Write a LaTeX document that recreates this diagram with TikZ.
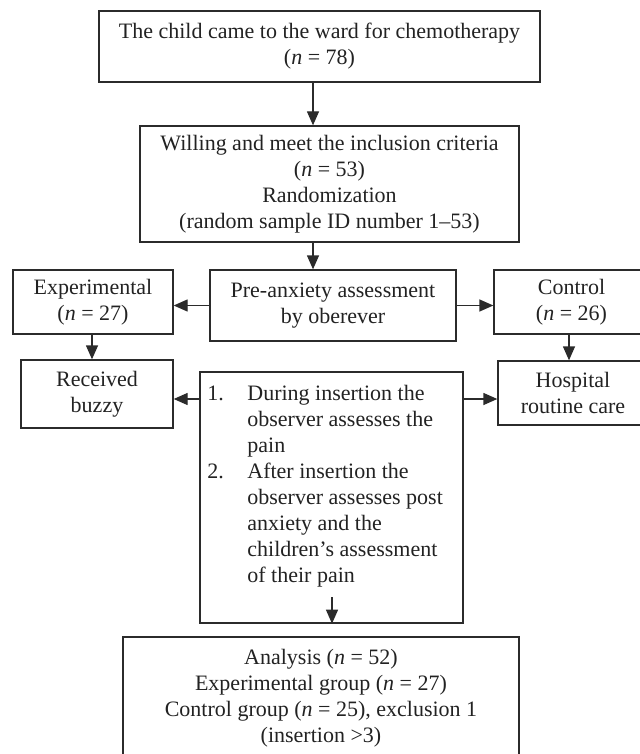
\documentclass[tikz,border=0pt]{standalone}
\usepackage{fontspec}
\setmainfont{Liberation Serif}
\usetikzlibrary{arrows.meta,calc}
\definecolor{linecol}{HTML}{2B2B2B}
\definecolor{textcol}{HTML}{222222}
\begin{document}
\begin{tikzpicture}[x=0.5pt,y=-0.5pt,
  box/.style={draw=linecol, line width=0.65pt, inner sep=0pt, align=center, text=textcol, font=\fontsize{11}{13}\selectfont},
  arr/.style={draw=linecol, line width=0.65pt, -{Triangle[length=7pt,width=6pt]}},
  listtext/.style={inner sep=0pt, text=textcol, font=\fontsize{11}{13}\selectfont}
]
\useasboundingbox (0,0) rectangle (640,754);

\node[box, minimum width=220.5pt, minimum height=35.5pt] (top) at (319.5,46.5)
  {The child came to the ward for chemotherapy\\(\textit{n} = 78)};
\node[box, minimum width=189.5pt, minimum height=58pt] (incl) at (329.5,184)
  {Willing and meet the inclusion criteria\\(\textit{n} = 53)\\Randomization\\(random sample ID number 1--53)};
\node[box, minimum width=123pt, minimum height=35.5pt] (pre) at (333,305.5)
  {Pre-anxiety assessment\\by oberever};
\node[box, minimum width=80pt, minimum height=32pt] (exp) at (93,302)
  {Experimental\\(\textit{n} = 27)};
\node[box, minimum width=77.5pt, minimum height=32pt] (ctrl) at (571.5,302)
  {Control\\(\textit{n} = 26)};
\node[box, minimum width=76pt, minimum height=34pt] (recv) at (97,394)
  {Received\\buzzy};
\node[box, minimum width=75pt, minimum height=32pt] (hosp) at (573,393)
  {Hospital\\routine care};
\node[box, minimum width=131.5pt, minimum height=125.5pt] (obs) at (331.5,497.5) {};
\node[listtext, anchor=north west] (obstext) at (207,385) {%
  \begin{minipage}[t]{126pt}
  \raggedright
  \hyphenpenalty=10000\exhyphenpenalty=10000
  \leftskip=20pt\parindent=-20pt
  \makebox[20pt][l]{1.}During insertion the\newline observer assesses the\newline pain\par
  \makebox[20pt][l]{2.}After insertion the\newline observer assesses post\newline anxiety and the\newline children’s assessment\newline of their pain\par
  \end{minipage}};
\node[box, minimum width=198pt, minimum height=61pt] (anal) at (321,698)
  {Analysis (\textit{n} = 52)\\Experimental group (\textit{n} = 27)\\Control group (\textit{n} = 25), exclusion 1\\(insertion >3)};

\coordinate (c1) at (313,0);
\coordinate (c2) at (92,0);
\coordinate (c3) at (569,0);
\coordinate (c4) at (0,399);
\coordinate (c5) at (332,597);

\draw[arr] (top.south -| c1) -- (incl.north -| c1);
\draw[arr] (incl.south -| c1) -- (pre.north -| c1);
\draw[arr] (pre.west) -- (pre.west -| exp.east);
\draw[arr] (pre.east) -- (pre.east -| ctrl.west);
\draw[arr] (exp.south -| c2) -- (recv.north -| c2);
\draw[arr] (ctrl.south -| c3) -- (hosp.north -| c3);
\draw[arr] (obs.west |- c4) -- (recv.east |- c4);
\draw[arr] (obs.east |- c4) -- (hosp.west |- c4);
\draw[arr] (c5) -- (obs.south -| c5);
\end{tikzpicture}
\end{document}
